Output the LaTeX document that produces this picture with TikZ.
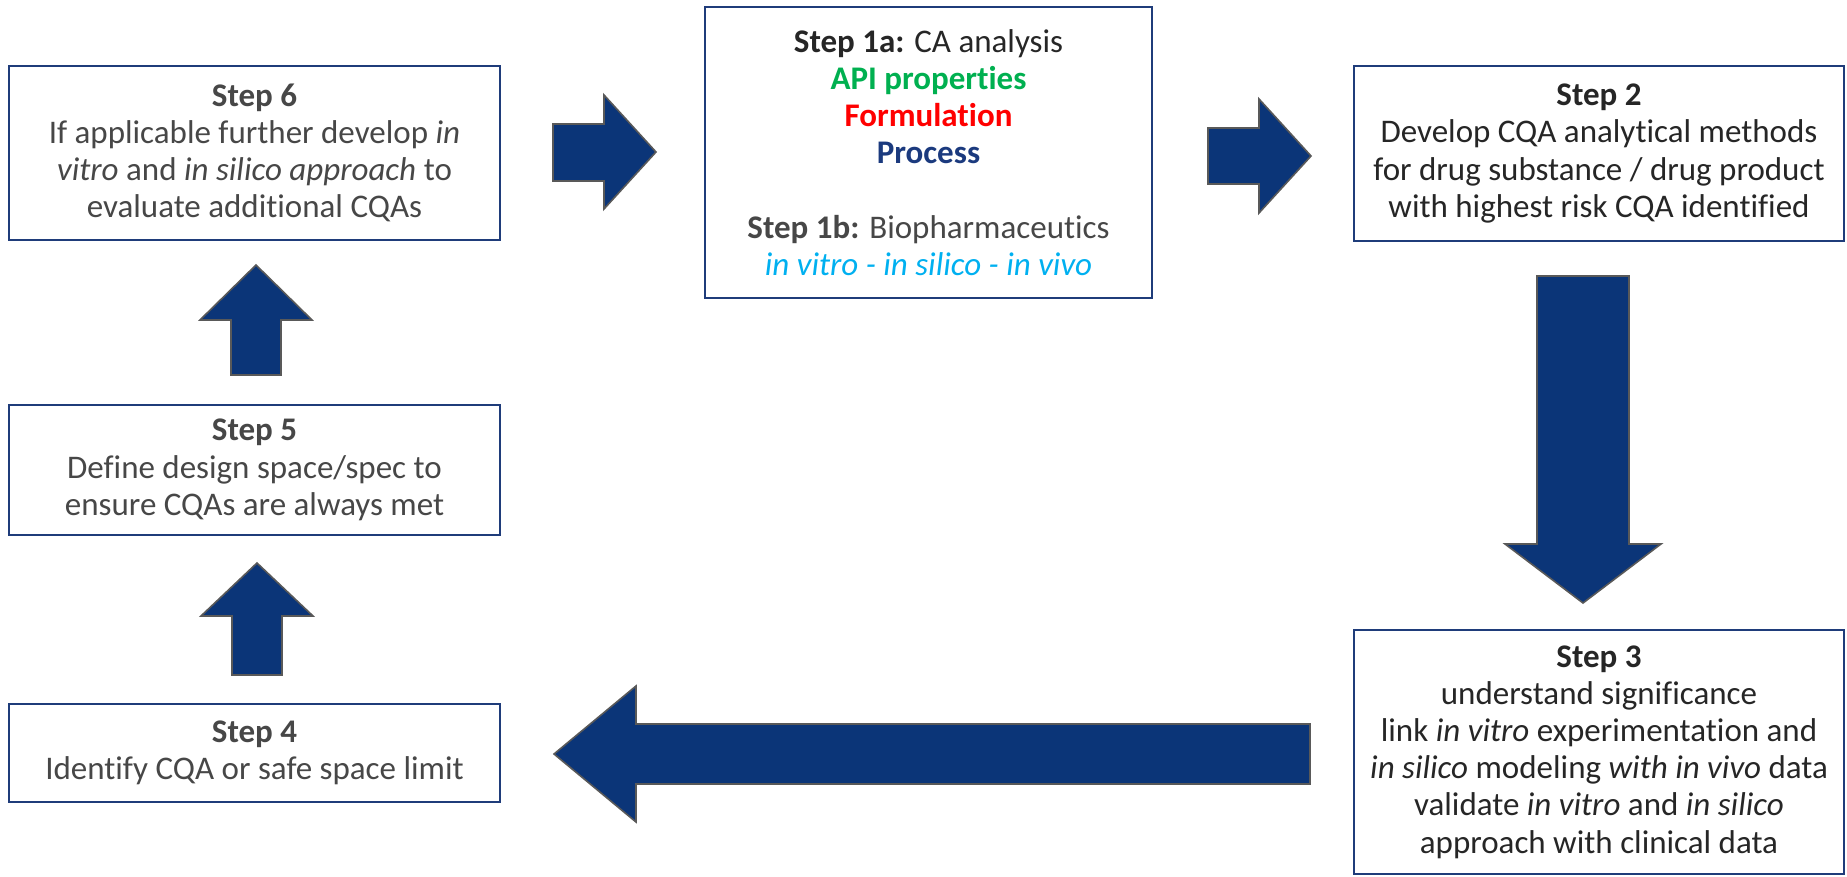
\documentclass[tikz,border=0pt]{standalone}
\usepackage{fontspec}
\setmainfont[Ligatures=NoCommon]{Carlito}
\definecolor{boxblue}{HTML}{1F3C7A}
\definecolor{arrowblue}{HTML}{0B3578}
\definecolor{arrowgray}{HTML}{595959}
\definecolor{txtgray}{HTML}{474747}
\definecolor{txtdark}{HTML}{262626}
\definecolor{apigreen}{HTML}{00B050}
\definecolor{formred}{HTML}{FF0000}
\definecolor{procblue}{HTML}{1B3A7E}
\definecolor{vitroblue}{HTML}{00B0F0}
\begin{document}
\begin{tikzpicture}[x=0.5pt,y=-0.5pt]
\tikzset{
  stepbox/.style={draw=boxblue,line width=1pt,fill=white,align=center,inner sep=0pt,
    font=\fontsize{16.5}{18.6}\selectfont},
  blockarrow/.style={fill=arrowblue,draw=arrowgray,line width=0.8pt,line join=miter}
}
\useasboundingbox (0,0) rectangle (1847,877);

\node[stepbox,text=txtgray,minimum width=245.5pt,minimum height=87pt] (s6) at (254.5,153)
  {\textbf{Step 6}\\If applicable further develop \textit{in}\\\textit{vitro} and \textit{in silico approach} to\\evaluate additional CQAs};
\node[stepbox,text=txtdark,minimum width=223.5pt,minimum height=145.5pt] (s1) at (928.5,152.5)
  {\textbf{Step 1a:} CA analysis\\\textcolor{apigreen}{\textbf{API properties}}\\\textcolor{formred}{\textbf{Formulation}}\\\textcolor{procblue}{\textbf{Process}}\\[18.6pt]\textcolor{txtgray}{\textbf{Step 1b:} Biopharmaceutics}\\\textcolor{vitroblue}{\textit{in vitro - in silico - in vivo}}};
\node[stepbox,text=txtdark,minimum width=245pt,minimum height=87.5pt] (s2) at (1599,153.5)
  {\textbf{Step 2}\\Develop CQA analytical methods\\for drug substance / drug product\\with highest risk CQA identified};
\node[stepbox,text=txtdark,minimum width=245pt,minimum height=122pt] (s3) at (1599,752)
  {\textbf{Step 3}\\understand significance\\link \textit{in vitro} experimentation and\\\textit{in silico} modeling \textit{with in vivo} data\\validate \textit{in vitro} and \textit{in silico}\\approach with clinical data};
\node[stepbox,text=txtgray,minimum width=245.5pt,minimum height=49pt] (s4) at (254.5,753)
  {\textbf{Step 4}\\Identify CQA or safe space limit};
\node[stepbox,text=txtgray,minimum width=245.5pt,minimum height=65pt] (s5) at (254.5,470)
  {\textbf{Step 5}\\Define design space/spec to\\ensure CQAs are always met};

% block arrows
\draw[blockarrow] (553,124)--(604,124)--(604,95)--(656,152)--(604,209)--(604,181)--(553,181)--cycle;
\draw[blockarrow] (1208,128)--(1259,128)--(1259,99)--(1311,156)--(1259,213)--(1259,184)--(1208,184)--cycle;
\draw[blockarrow] (1537,276)--(1629,276)--(1629,544)--(1661,544)--(1583,603)--(1505,544)--(1537,544)--cycle;
\draw[blockarrow] (1310,724)--(636,724)--(636,686)--(554,754)--(636,822)--(636,784)--(1310,784)--cycle;
\draw[blockarrow] (232,675)--(282,675)--(282,616)--(313,616)--(257,563)--(201,616)--(232,616)--cycle;
\draw[blockarrow] (231,375)--(281,375)--(281,320)--(312,320)--(256,265)--(200,320)--(231,320)--cycle;
\end{tikzpicture}
\end{document}
